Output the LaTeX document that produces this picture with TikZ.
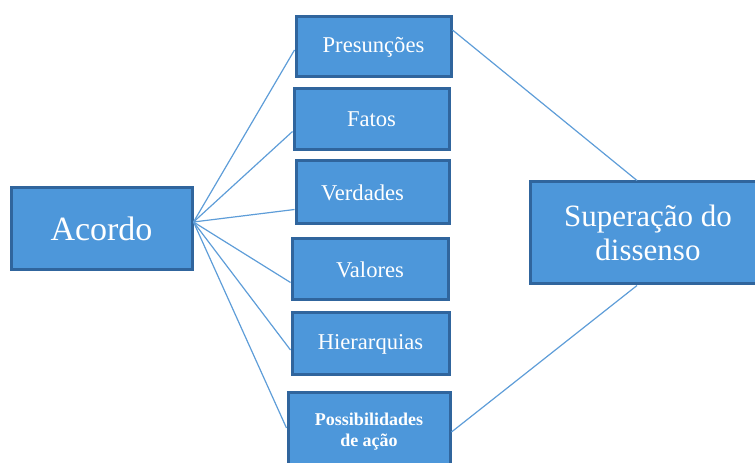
\documentclass[tikz,border=0pt]{standalone}
\usepackage{fontspec}
\setmainfont{Liberation Serif}
\usetikzlibrary{calc}
\definecolor{boxfill}{HTML}{4D97DA}
\definecolor{boxline}{HTML}{30659D}
\definecolor{conn}{HTML}{5E9DD8}
\begin{document}
\begin{tikzpicture}[x=1pt,y=1pt,
  box/.style={draw=boxline, line width=3pt, fill=boxfill, text=white, inner sep=0pt, align=center},
  small/.style={box, font=\fontsize{22.6}{26}\selectfont},
  conn/.style={draw=conn, line width=1.2pt}]
\useasboundingbox (0,0) rectangle (755,463);
\clip (0,0) rectangle (755,463);
\node[box, minimum width=181pt, minimum height=82pt, font=\fontsize{34}{38}\selectfont] (acordo) at (101.5,234) {Acordo};
\node[small, minimum width=155pt, minimum height=60pt] (pres) at (373.5,416) {Presunções};
\node[small, minimum width=155pt, minimum height=61pt] (fatos) at (371.5,343.5) {Fatos};
\node[small, minimum width=153pt, minimum height=63pt] (verd) at (372.5,270.5) {\hspace*{-20pt}Verdades};
\node[small, minimum width=156pt, minimum height=61pt] (valores) at (370,193.5) {Valores};
\node[small, minimum width=157pt, minimum height=62pt] (hier) at (370.5,119) {Hierarquias};
\node[box, minimum width=162pt, minimum height=78pt, font=\bfseries\fontsize{18}{21}\selectfont] (poss) at (369,31) {Possibilidades\\de ação};
\node[box, minimum width=236pt, minimum height=102pt, font=\fontsize{31}{34}\selectfont] (sup) at (648,230) {Superação do\\dissenso};
\coordinate (fan) at ([yshift=7pt]acordo.east);
\draw[conn] (fan) -- ([yshift=-3pt]pres.west);
\draw[conn] (fan) -- ([yshift=-12pt]fatos.west);
\draw[conn] (fan) -- ([yshift=-17pt]verd.west);
\draw[conn] (fan) -- ([yshift=-13pt]valores.west);
\draw[conn] (fan) -- ([yshift=-6pt]hier.west);
\draw[conn] (fan) -- ([yshift=4pt]poss.west);
\draw[conn] ([yshift=17pt]pres.east) -- ([xshift=-11pt]sup.north);
\draw[conn] ([yshift=0pt]poss.east) -- ([xshift=-11pt]sup.south);
\end{tikzpicture}
\end{document}
